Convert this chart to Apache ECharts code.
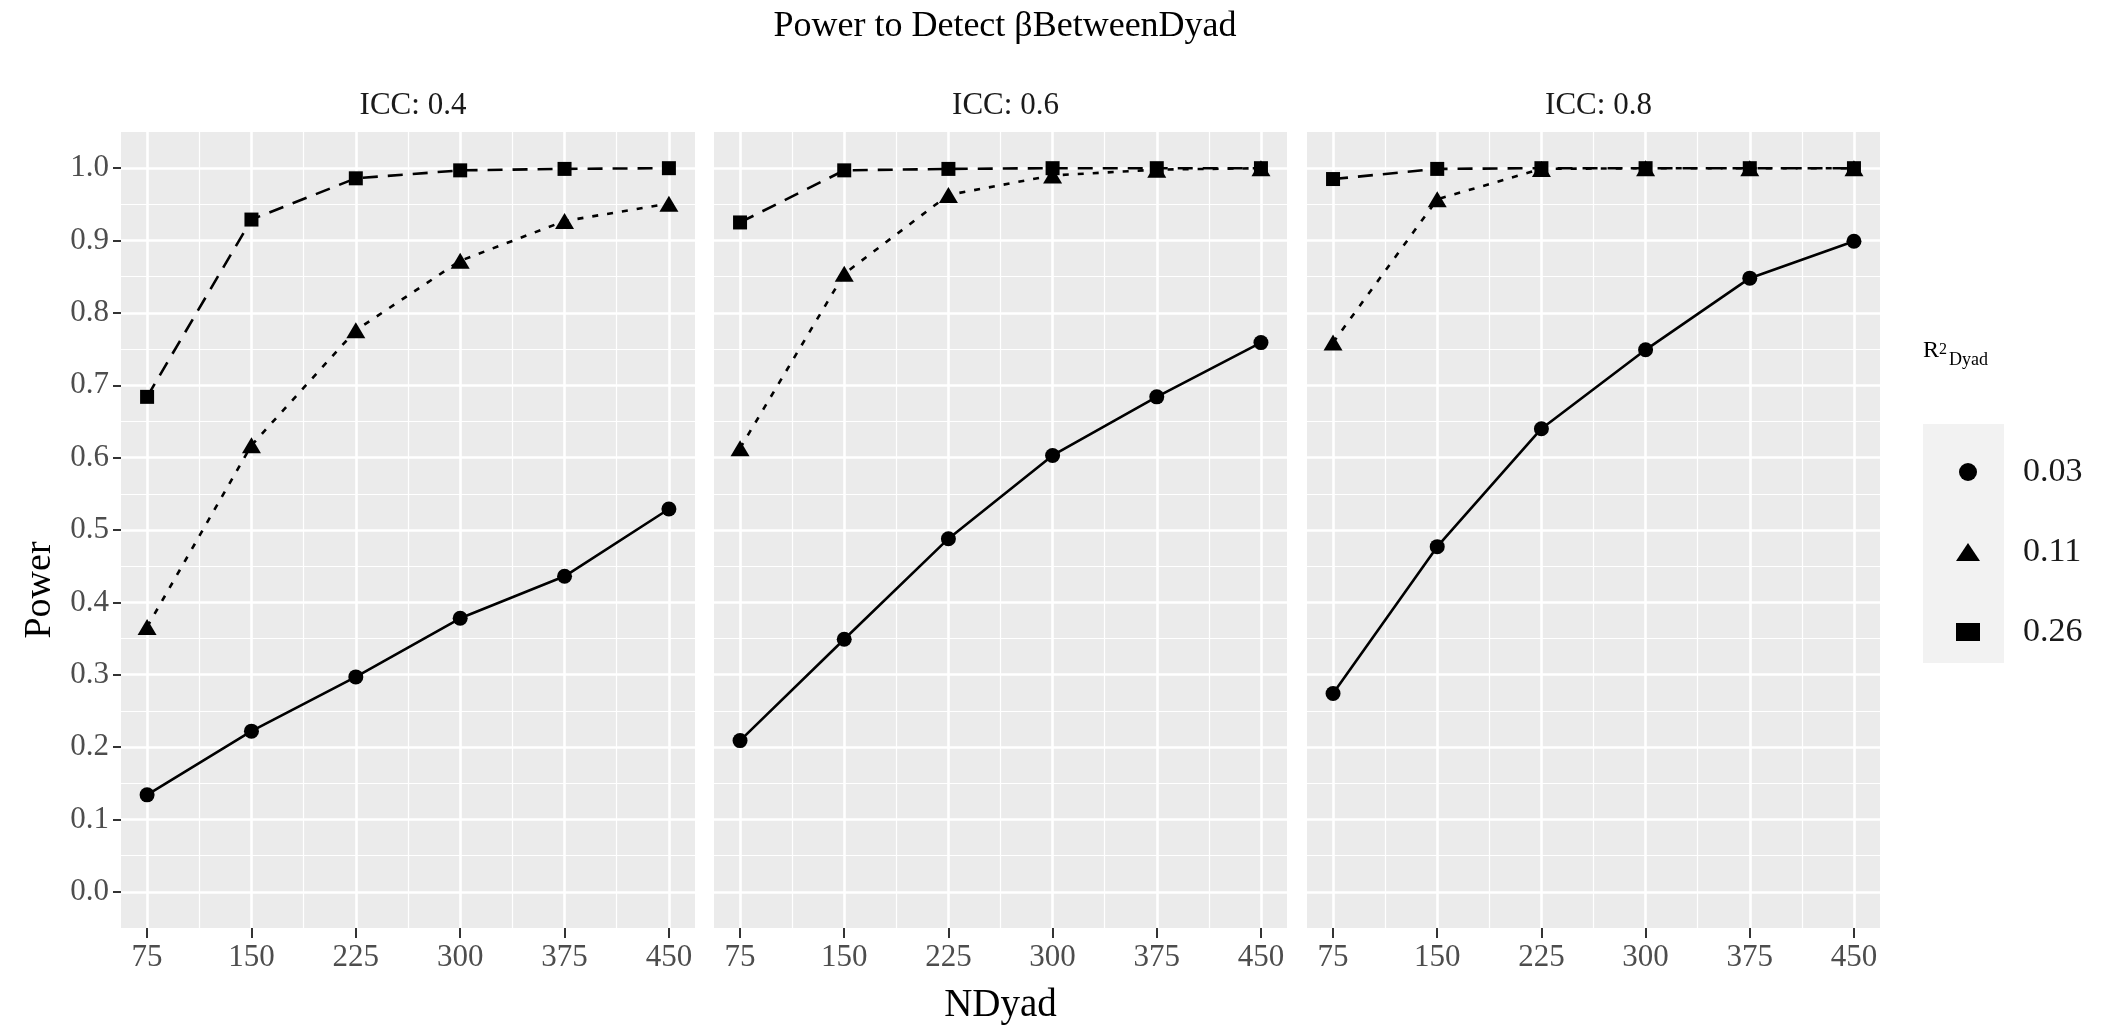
<!doctype html>
<html>
<head>
<meta charset="UTF-8">
<title>Power to Detect βBetweenDyad</title>
<script src="https://cdn.jsdelivr.net/npm/echarts@6/dist/echarts.min.js"></script>
<style>
  html, body { margin: 0; padding: 0; background: #fff; }
  #main { width: 2113px; height: 1025px; }
</style>
</head>
<body>
<div id="main"></div>
<script>
// sample sizes on the x axis
var nDyad = [75, 150, 225, 300, 375, 450];
var xMinor = [112.5, 187.5, 262.5, 337.5, 412.5];
var yTicks = [0, 0.1, 0.2, 0.3, 0.4, 0.5, 0.6, 0.7, 0.8, 0.9, 1.0];
var yMinor = [0.05, 0.15, 0.25, 0.35, 0.45, 0.55, 0.65, 0.75, 0.85, 0.95];

var panels = ['ICC: 0.4', 'ICC: 0.6', 'ICC: 0.8'];
var levels = ['0.03', '0.11', '0.26'];

// power values per panel (ICC) and R2 level
var icc04_r03 = [0.134, 0.222, 0.297, 0.378, 0.436, 0.529];
var icc04_r11 = [0.366, 0.617, 0.776, 0.872, 0.927, 0.951];
var icc04_r26 = [0.684, 0.929, 0.986, 0.997, 0.999, 1.000];

var icc06_r03 = [0.209, 0.349, 0.488, 0.603, 0.684, 0.759];
var icc06_r11 = [0.613, 0.854, 0.963, 0.990, 0.998, 1.000];
var icc06_r26 = [0.925, 0.997, 0.999, 1.000, 1.000, 1.000];

var icc08_r03 = [0.274, 0.477, 0.640, 0.749, 0.848, 0.899];
var icc08_r11 = [0.759, 0.957, 0.999, 1.000, 1.000, 1.000];
var icc08_r26 = [0.985, 0.999, 1.000, 1.000, 1.000, 1.000];

var values = [
  [icc04_r03, icc04_r11, icc04_r26],
  [icc06_r03, icc06_r11, icc06_r26],
  [icc08_r03, icc08_r11, icc08_r26]
];

var FONT = '"Liberation Serif", "Times New Roman", serif';
var panelLeft = [121, 714, 1307];
var panelWidth = [574, 573, 573];
var panelTop = 132, panelHeight = 796;

var symbols = ['circle', 'triangle', 'rect'];
var symbolSizes = [15, [19, 16], 14];
var lineTypes = ['solid', [6, 9], [15, 10]];

var grids = [], xAxes = [], yAxes = [], series = [], titles = [];

titles.push({
  text: 'Power to Detect βBetweenDyad',
  left: 1000, top: 4, textAlign: 'center',
  textStyle: { fontFamily: FONT, fontSize: 36, fontWeight: 'normal', color: '#000' }
});

for (var i = 0; i < 3; i++) {
  grids.push({
    left: panelLeft[i], top: panelTop, width: panelWidth[i], height: panelHeight,
    show: true, backgroundColor: '#EBEBEB', borderWidth: 0,
    outerBoundsMode: 'none'
  });
  titles.push({
    text: panels[i],
    left: panelLeft[i] + panelWidth[i] / 2, top: 85, textAlign: 'center',
    textStyle: { fontFamily: FONT, fontSize: 31, fontWeight: 'normal', color: '#1A1A1A' }
  });

  // major x
  xAxes.push({
    type: 'value', gridIndex: i, min: 56.25, max: 468.75, position: 'bottom',
    axisLine: { show: false, onZero: false },
    axisTick: { show: true, length: 10, lineStyle: { color: '#333', width: 2 }, customValues: nDyad },
    axisLabel: { customValues: nDyad, fontFamily: FONT, fontSize: 31, color: '#4D4D4D', margin: 14 },
    splitLine: { show: true, lineStyle: { color: '#fff', width: 2.6 } },
    name: i === 1 ? 'NDyad' : '',
    nameLocation: 'middle', nameGap: 58,
    nameTextStyle: { fontFamily: FONT, fontSize: 39, color: '#000' }
  });
  // minor x
  xAxes.push({
    type: 'value', gridIndex: i, min: 56.25, max: 468.75, position: 'top',
    axisLine: { show: false, onZero: false },
    axisTick: { show: false, customValues: xMinor },
    axisLabel: { show: false },
    splitLine: { show: true, lineStyle: { color: '#fff', width: 1.2 } }
  });
  // major y
  yAxes.push({
    type: 'value', gridIndex: i, min: -0.05, max: 1.05, position: 'left',
    axisLine: { show: false, onZero: false },
    axisTick: { show: i === 0, length: 8, lineStyle: { color: '#333', width: 2 }, customValues: yTicks },
    axisLabel: {
      show: i === 0, customValues: yTicks, fontFamily: FONT, fontSize: 31, color: '#4D4D4D', margin: 12,
      formatter: function (v) { return v.toFixed(1); }
    },
    splitLine: { show: true, lineStyle: { color: '#fff', width: 2.6 } }
  });
  // minor y
  yAxes.push({
    type: 'value', gridIndex: i, min: -0.05, max: 1.05, position: 'right',
    axisLine: { show: false, onZero: false },
    axisTick: { show: false, customValues: yMinor },
    axisLabel: { show: false },
    splitLine: { show: true, lineStyle: { color: '#fff', width: 1.2 } }
  });

  for (var k = 0; k < 3; k++) {
    var vals = values[i][k];
    series.push({
      name: levels[k], type: 'line',
      xAxisIndex: 2 * i, yAxisIndex: 2 * i,
      data: nDyad.map(function (x, j) { return [x, vals[j]]; }),
      symbol: symbols[k], symbolSize: symbolSizes[k],
      itemStyle: { color: '#000' },
      lineStyle: { color: '#000', width: 2.6, type: lineTypes[k] },
      z: 3 + k
    });
  }
}

var option = {
  backgroundColor: '#fff',
  animation: false,
  title: titles,
  grid: grids,
  xAxis: xAxes,
  yAxis: yAxes,
  legend: {
    orient: 'vertical', left: 1951, top: 427,
    itemGap: 0, itemWidth: 24, itemHeight: 18,
    selectedMode: false,
    data: [
      { name: '0.03', icon: 'circle' },
      { name: '0.11', icon: 'triangle' },
      { name: '0.26', icon: 'rect' }
    ],
    itemStyle: { borderWidth: 0 },
    textStyle: { fontFamily: FONT, fontSize: 34, color: '#1A1A1A', lineHeight: 80, padding: [0, 0, 0, 38] }
  },
  graphic: [
    { type: 'rect', left: 1923, top: 424, shape: { width: 81, height: 239 }, style: { fill: '#F2F2F2' }, z: -1 },
    { type: 'text', x: 40, y: 590, rotation: Math.PI / 2,
      style: { text: 'Power', font: '38px ' + FONT, fill: '#000', align: 'center', verticalAlign: 'middle' } },
    { type: 'text', x: 1923, y: 363,
      style: { text: 'R', font: '24px ' + FONT, fill: '#000', verticalAlign: 'bottom' } },
    { type: 'text', x: 1939, y: 358,
      style: { text: '2', font: '16px ' + FONT, fill: '#000', verticalAlign: 'bottom' } },
    { type: 'text', x: 1949, y: 369,
      style: { text: 'Dyad', font: '18px ' + FONT, fill: '#000', verticalAlign: 'bottom' } }
  ],
  series: series
};

var chart = echarts.init(document.getElementById('main'));
chart.setOption(option);
</script>
</body>
</html>
